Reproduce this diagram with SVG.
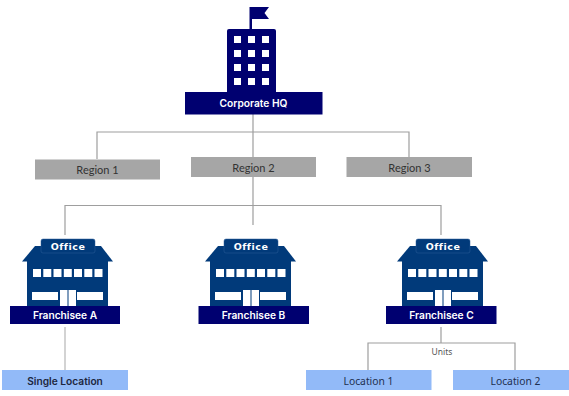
<svg xmlns="http://www.w3.org/2000/svg" xmlns:xlink="http://www.w3.org/1999/xlink" width="569" height="396" viewBox="0 0 569 396">
<style>
.navy{fill:#000070}
.blue{fill:#013a7a}
.w{fill:#fff}
.region{fill:#a6a6a6}
.loc{fill:#92baf8}
.conn{fill:none;stroke:#9e9e9e;stroke-width:1.2}
.connL{fill:none;stroke:#c4c4c4;stroke-width:1.5}
text{font-family:"Inter","Liberation Sans",sans-serif;text-anchor:middle}
.wt{fill:#fff;font-weight:600;font-size:10.2px}
.dk{fill:#333;font-family:"Lato","Liberation Sans",sans-serif;font-size:11px}
.bl{fill:#1f3050;font-family:"Noto Sans","Liberation Sans",sans-serif;font-size:10.3px}
.of{fill:#fff;font-family:"DejaVu Sans",sans-serif;font-weight:700;font-size:9.500px;letter-spacing:.5px}
</style>
<defs>
<g id="shop">
<path class="blue" d="M35 246H101L113 261.500H22Z"/>
<path class="blue" d="M27 261H108V306a3 3 0 0 1-3 3H30a3 3 0 0 1-3-3Z"/>
<rect class="blue" x="41" y="239" width="54" height="14" rx="2" stroke="#2f5f9a" stroke-width=".5"/>
<g class="w">
<rect x="33" y="269" width="8" height="8"/><rect x="43.300" y="269" width="8" height="8"/><rect x="53.500" y="269" width="8" height="8"/><rect x="63.800" y="269" width="8" height="8"/><rect x="74" y="269" width="8" height="8"/><rect x="84.300" y="269" width="8" height="8"/><rect x="94.500" y="269" width="8" height="8"/>
<rect x="32" y="292" width="26" height="8"/><rect x="77" y="292" width="26" height="8"/>
<rect x="60" y="290" width="7.500" height="17"/><rect x="68.500" y="290" width="7.500" height="17"/>
</g>
</g>
</defs>
<g id="connectors">
<path class="conn" d="M253 114V157M97 159V132H409V157M253 177V225M65 235V205.500H441V235"/>
<path class="connL" d="M65 327V370"/>
<path class="conn" d="M441 327V343M368 370V343H515V370"/>
</g>
<g id="corporate-hq">
<path class="navy" d="M249.500 29V7H269L264.500 13L269 19H252V29Z"/>
<path class="navy" d="M229 29H274a2 2 0 0 1 2 2V92H227V31a2 2 0 0 1 2-2Z"/>
<g class="w">
<rect x="234" y="36" width="7" height="7"/><rect x="248" y="36" width="7" height="7"/><rect x="262" y="36" width="7" height="7"/>
<rect x="234" y="50" width="7" height="7"/><rect x="248" y="50" width="7" height="7"/><rect x="262" y="50" width="7" height="7"/>
<rect x="234" y="64" width="7" height="7"/><rect x="248" y="64" width="7" height="7"/><rect x="262" y="64" width="7" height="7"/>
<rect x="234" y="78" width="7" height="7"/><rect x="248" y="78" width="7" height="7"/><rect x="262" y="78" width="7" height="7"/>
</g>
<rect class="navy" x="185" y="92" width="137.500" height="22.500"/>
<text class="wt" x="253.500" y="107">Corporate HQ</text>
</g>
<g id="region-1"><rect class="region" x="35" y="159.500" width="125" height="20"/><text class="dk" x="97.500" y="174">Region 1</text></g>
<g id="region-2"><rect class="region" x="191" y="157" width="125" height="20"/><text class="dk" x="253.500" y="171.500">Region 2</text></g>
<g id="region-3"><rect class="region" x="346.500" y="157" width="125.500" height="20"/><text class="dk" x="409.500" y="171.500">Region 3</text></g>
<g id="franchisee-a">
<use xlink:href="#shop" href="#shop"/>
<rect class="navy" x="10" y="306" width="110" height="18"/>
<text class="wt" x="65" y="319">Franchisee A</text>
<text class="of" x="68" y="249.500">Office</text>
</g>
<g id="franchisee-b">
<use xlink:href="#shop" href="#shop" x="183"/>
<rect class="navy" x="198.500" y="306" width="110.500" height="18"/>
<text class="wt" x="253.500" y="319">Franchisee B</text>
<text class="of" x="251" y="249.500">Office</text>
</g>
<g id="franchisee-c">
<use xlink:href="#shop" href="#shop" x="375"/>
<rect class="navy" x="386" y="306" width="110.500" height="18"/>
<text class="wt" x="441.500" y="319">Franchisee C</text>
<text class="of" x="443" y="249.500">Office</text>
</g>
<g id="units-label"><text x="442" y="355" style="font-size:8.500px;fill:#555;font-family:'Noto Sans',sans-serif">Units</text></g>
<g id="single-location"><rect class="loc" x="2" y="370" width="126" height="20"/><text x="65" y="384.500" style="font-size:10.200px;font-weight:600;fill:#1d2740">Single Location</text></g>
<g id="location-1"><rect class="loc" x="306" y="370" width="125.500" height="20"/><text class="bl" x="368.500" y="384.500">Location 1</text></g>
<g id="location-2"><rect class="loc" x="453" y="370" width="116" height="20"/><text class="bl" x="515.500" y="384.500">Location 2</text></g>
</svg>
